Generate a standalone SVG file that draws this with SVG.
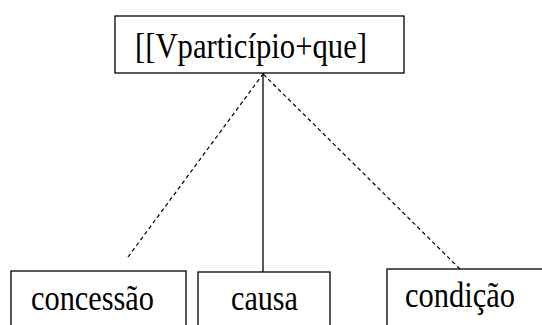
<svg xmlns="http://www.w3.org/2000/svg" width="542" height="325" viewBox="0 0 542 325">
<style>
.box{fill:#fff;stroke:#000;stroke-width:1.3}
.lbl{font-family:"Liberation Serif","Times New Roman",serif;font-size:36px;fill:#000}
.solid{stroke:#333;stroke-width:1.6;fill:none}
.dash{stroke:#000;stroke-width:1.2;fill:none;stroke-dasharray:4 3}
</style>
<defs>
<marker id="arr" viewBox="0 0 8 8" refX="4" refY="0.5" markerWidth="8" markerHeight="8" markerUnits="userSpaceOnUse" orient="auto-start-reverse">
<path d="M1,4 L4,0.5 L7,4" fill="none" stroke="#000" stroke-width="1"/>
</marker>
</defs>
<rect width="542" height="325" fill="#fff"/>
<g id="connectors">
<line class="solid" x1="263" y1="272" x2="263" y2="74" marker-end="url(#arr)"/>
<line class="dash" x1="128" y1="257" x2="263" y2="74"/>
<line class="dash" x1="460" y1="269" x2="263" y2="74"/>
</g>
<g id="node-top">
<rect class="box" x="115" y="16" width="289" height="57"/>
<text class="lbl" x="135" y="58" textLength="232" lengthAdjust="spacingAndGlyphs">[[Vparticípio+que]</text>
</g>
<g id="node-concessao">
<rect class="box" x="11" y="271" width="175" height="70"/>
<text class="lbl" x="31" y="310" textLength="123" lengthAdjust="spacingAndGlyphs">concessão</text>
</g>
<g id="node-causa">
<rect class="box" x="198" y="272" width="132" height="70"/>
<text class="lbl" x="231" y="310" textLength="67" lengthAdjust="spacingAndGlyphs">causa</text>
</g>
<g id="node-condicao">
<rect class="box" x="387" y="269" width="170" height="70"/>
<text class="lbl" x="405" y="307" textLength="110" lengthAdjust="spacingAndGlyphs">condição</text>
</g>
</svg>
